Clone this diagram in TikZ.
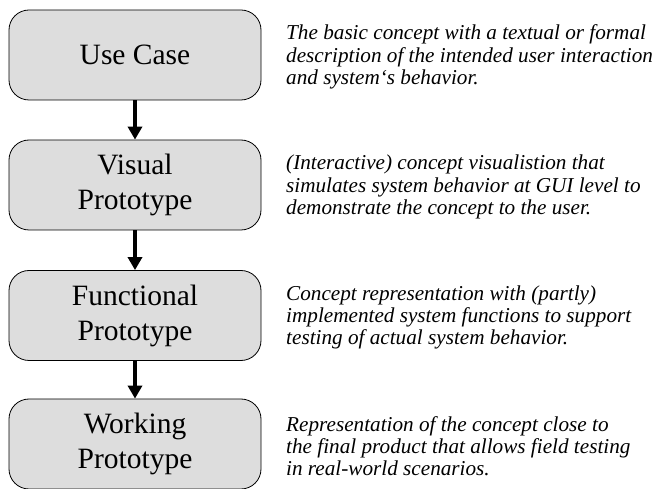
\documentclass[tikz,border=0pt]{standalone}
\usepackage{fontspec}
\setmainfont{Liberation Serif}
\usetikzlibrary{arrows.meta}
\definecolor{boxgray}{RGB}{221,221,221}
\begin{document}
\begin{tikzpicture}[x=1pt,y=-1pt,
  stagebox/.style={draw=black, fill=boxgray, rounded corners=20pt,
    minimum width=252pt, minimum height=90pt, inner sep=0pt,
    align=center, line width=0.8pt,
    font=\fontsize{29.5}{35}\selectfont},
  descr/.style={anchor=west, align=left, inner sep=0pt,
    font=\fontsize{21.2}{22.2}\selectfont\itshape},
  flow/.style={line width=4pt, -{Triangle[width=14pt,length=13pt]}}]
\useasboundingbox (0,0) rectangle (657,489);

% development stages
\node[stagebox] (uc) at (135,55)    {Use Case};
\node[stagebox] (vp) at (135,185)   {Visual\\Prototype};
\node[stagebox] (fp) at (135,315.5) {Functional\\Prototype};
\node[stagebox] (wp) at (135,444)   {Working\\Prototype};

% stage transitions
\draw[flow] (uc.south) -- (vp.north);
\draw[flow] (vp.south) -- (fp.north);
\draw[flow] (fp.south) -- (wp.north);

% stage descriptions
\node[descr] (duc) at (286,57) {The basic concept with a textual or formal\\description of the intended user interaction\\and system‘s behavior.};
\node[descr] (dvp) at (286,187) {(Interactive) concept visualistion that\\simulates system behavior at GUI level to\\demonstrate the concept to the user.};
\node[descr] (dfp) at (286,317.5) {Concept representation with (partly)\\implemented system functions to support\\testing of actual system behavior.};
\node[descr] (dwp) at (286,446) {Representation of the concept close to\\the final product that allows field testing\\in real-world scenarios.};
\end{tikzpicture}
\end{document}
